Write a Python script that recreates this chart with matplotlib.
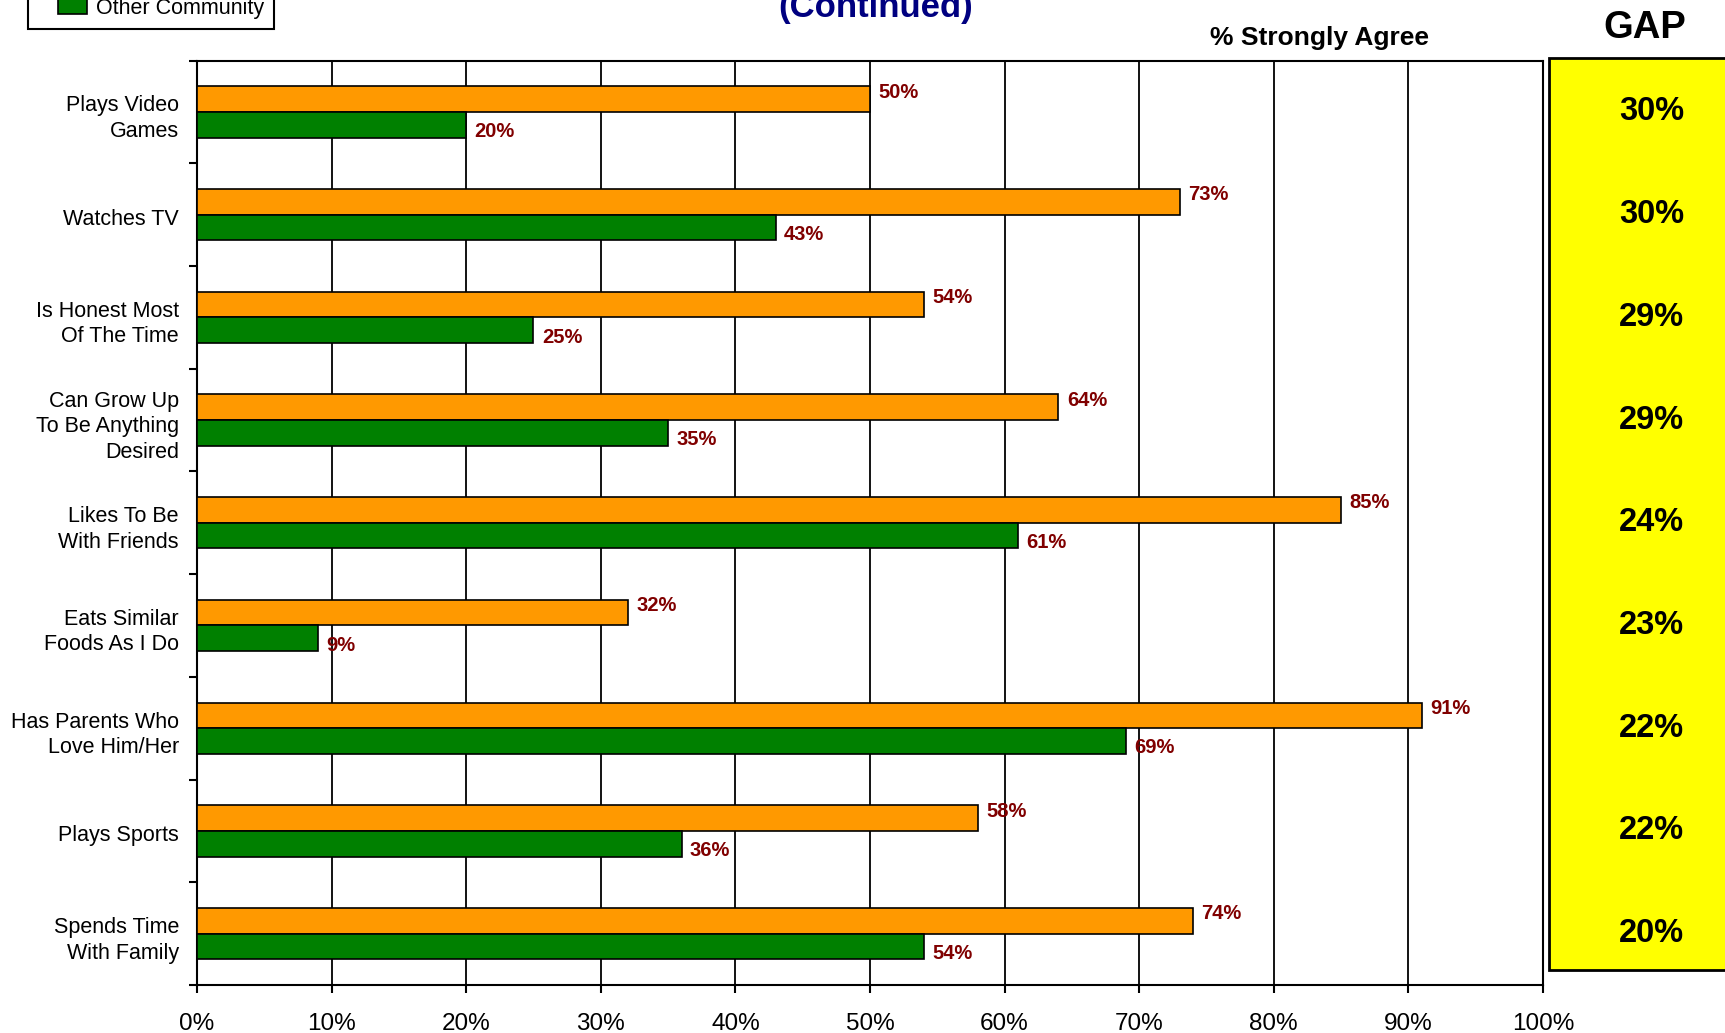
"""
Horizontal paired bar chart of % strongly agree, with a GAP column on the right.
"""
import numpy as np
import matplotlib.pyplot as plt
from matplotlib.patches import Rectangle, Patch
from matplotlib.legend_handler import HandlerPatch
from matplotlib.transforms import blended_transform_factory

plt.rcParams["font.family"] = ["Liberation Sans", "DejaVu Sans"]

categories = [
    "Plays Video\nGames",
    "Watches TV",
    "Is Honest Most\nOf The Time",
    "Can Grow Up\nTo Be Anything\nDesired",
    "Likes To Be\nWith Friends",
    "Eats Similar\nFoods As I Do",
    "Has Parents Who\nLove Him/Her",
    "Plays Sports",
    "Spends Time\nWith Family",
]
own_values = [50, 73, 54, 64, 85, 32, 91, 58, 74]
other_values = [20, 43, 25, 35, 61, 9, 69, 36, 54]
gap_values = [30, 30, 29, 29, 24, 23, 22, 22, 20]
x_ticks = list(range(0, 101, 10))

ORANGE = "#FF9900"
GREEN = "#008000"
LABEL_RED = "#800000"
NAVY = "#000080"

fig = plt.figure(figsize=(17.25, 10.33), dpi=100)
ax = fig.add_axes([0.1142, 0.0465, 0.7803, 0.8949])

y = np.arange(len(categories))
bar_h = 0.25

ax.barh(y - bar_h / 2, own_values, height=bar_h, color=ORANGE,
        edgecolor="black", linewidth=1.2, zorder=3)
ax.barh(y + bar_h / 2, other_values, height=bar_h, color=GREEN,
        edgecolor="black", linewidth=1.2, zorder=3)

for yi, v in zip(y, own_values):
    ax.annotate(f"{v}%", (v, yi - bar_h / 2), xytext=(6, 5), textcoords="offset points",
                ha="left", va="center", color=LABEL_RED, fontsize=14.5, fontweight="bold")
for yi, v in zip(y, other_values):
    ax.annotate(f"{v}%", (v, yi + bar_h / 2), xytext=(6, -5), textcoords="offset points",
                ha="left", va="center", color=LABEL_RED, fontsize=14.5, fontweight="bold")

ax.set_xlim(0, 100)
ax.set_ylim(len(categories) - 0.5, -0.5)

ax.set_xticks(x_ticks)
ax.set_xticklabels([f"{t}%" for t in x_ticks], fontsize=17.5)
ax.tick_params(axis="x", length=6, width=1.5, pad=14)
ax.grid(axis="x", color="black", linewidth=1.3, zorder=1)

# category boundaries get the tick marks, centres get the labels
ax.set_yticks(np.arange(-0.5, len(categories), 1.0))
ax.set_yticklabels([])
ax.set_yticks(y + 0.02, minor=True)
ax.set_yticklabels(categories, minor=True, fontsize=15.5, ha="right", linespacing=1.28)
ax.tick_params(axis="y", which="major", length=6, width=1.5)
ax.tick_params(axis="y", which="minor", length=0, pad=13)

for s in ax.spines.values():
    s.set_linewidth(1.5)

# GAP column
fig.add_artist(Rectangle((0.898, 0.061), 0.2, 0.8829, transform=fig.transFigure,
                         facecolor="#FFFF00", edgecolor="black", linewidth=2, zorder=0))
trans = blended_transform_factory(fig.transFigure, ax.transData)
for yi, g in zip(y, gap_values):
    ax.text(0.9576, yi, f"{g}%", transform=trans, ha="center", va="center",
            fontsize=23.5, fontweight="bold", clip_on=False)

fig.text(0.9536, 0.9727, "GAP", ha="center", va="center", fontsize=27.5, fontweight="bold")
fig.text(0.7652, 0.963, "% Strongly Agree", ha="center", va="center",
         fontsize=19, fontweight="bold")
fig.text(0.5078, 0.9835, "(Continued)", ha="center", va="baseline",
         fontsize=25, fontweight="bold", color=NAVY)


def right_swatch(legend, orig_handle, xdescent, ydescent, width, height, fontsize):
    # swatch sits in the right part of the handle box, leaving a wider left margin
    w = 1.33 * fontsize
    return Rectangle((width - w - xdescent, -ydescent), w, height)


handle = Patch(facecolor=GREEN, edgecolor="black", linewidth=1.2)
leg = fig.legend([handle], ["Other Community"], loc="lower left",
                 bbox_to_anchor=(0.016, 0.9724), fontsize=15.5,
                 frameon=True, fancybox=False, edgecolor="black", framealpha=1,
                 borderpad=0.45, borderaxespad=0, handlelength=2.3, handleheight=0.75,
                 handletextpad=0.45,
                 handler_map={Patch: HandlerPatch(patch_func=right_swatch)})
leg.get_frame().set_linewidth(1.5)

plt.savefig("out.png")
plt.close()
